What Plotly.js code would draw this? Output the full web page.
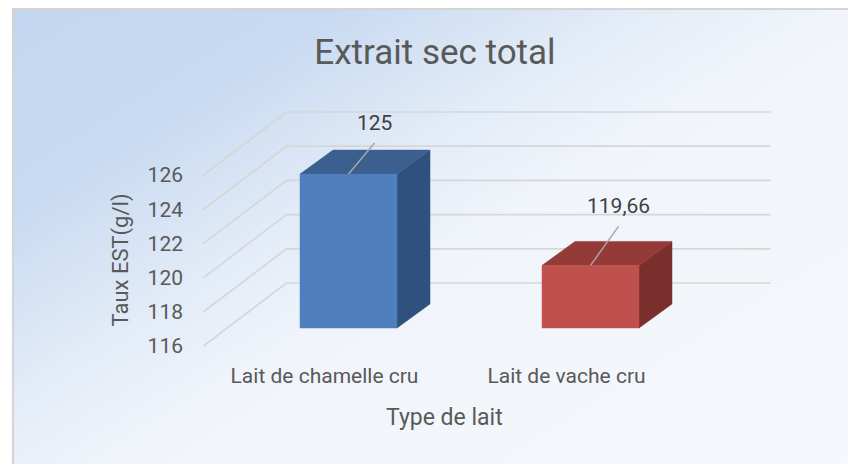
<!DOCTYPE html>
<html>
<head>
<meta charset="utf-8">
<script src="https://cdn.plot.ly/plotly-3.0.1.min.js"></script>
<style>
  body { margin: 0; background: #fff; }
  #frame {
    position: absolute; left: 12px; top: 8px; width: 850px; height: 470px;
    border-left: 2px solid #d4d4d4; border-top: 2px solid #d4d4d4;
    background: linear-gradient(148deg, #c4d7f0 0%, #c8daf1 20%, #e2ebf7 38%, #f1f5fb 52%, #f5f8fc 100%);
  }
  #chart { position: absolute; left: 0; top: 0; width: 848px; height: 464px; }
</style>
</head>
<body>
<div id="frame"></div>
<div id="chart"></div>
<script>
// data
var categories = ['Lait de chamelle cru', 'Lait de vache cru'];
var values = [125, 119.66];
var yTicks = [116, 118, 120, 122, 124, 126];

// colours for each bar : front, top, side
var frontColors = ['#4f7fbd', '#c0504d'];
var topColors = ['#3b5f8f', '#943a37'];
var sideColors = ['#30517e', '#7b2f2d'];

// pixel geometry of the fake 3d box
var L = 186, R = 790, T = 90, B = 350;
var PX_X = 242, PX_Y = 17.1;
var cat0Px = 324.5, basePx = 346;
function dx(px) { return px / PX_X; }
function dy(px) { return px / PX_Y; }

var x0 = -(cat0Px - L) / PX_X;
var xr = [x0, x0 + (R - L) / PX_X];
var y0 = yTicks[0] - (B - basePx) / PX_Y;
var yr = [y0, y0 + (B - T) / PX_Y];

var wallDX = dx(83), wallDY = dy(63);
var frontDX = dx(24), frontDY = dy(18);
var depthDX = dx(33), depthDY = dy(24);
var halfW = dx(48.5);
var leadDX = [26, 28], leadDY = [31, 39];

var traces = [];

// side wall + back wall grid lines
var gx = [], gy = [];
var leftEdge = -0.5, rightEdge = categories.length - 0.5;
yTicks.forEach(function(v) {
  gx.push(leftEdge, leftEdge + wallDX, rightEdge + wallDX, null);
  gy.push(v, v + wallDY, v + wallDY, null);
});
traces.push({x: gx, y: gy, mode: 'lines', line: {color: '#d6d6d6', width: 1.7},
  hoverinfo: 'skip', showlegend: false});

var annotations = [];

values.forEach(function(v, i) {
  var xc = i + frontDX;
  var bot = yTicks[0] + frontDY;
  var top = v + frontDY;
  var xa = xc - halfW, xb = xc + halfW;

  // side face
  traces.push({
    x: [xb, xb + depthDX, xb + depthDX, xb, xb],
    y: [bot, bot + depthDY, top + depthDY, top, bot],
    mode: 'lines', fill: 'toself', fillcolor: sideColors[i],
    line: {color: sideColors[i], width: 0.5}, hoverinfo: 'skip', showlegend: false
  });
  // top face
  traces.push({
    x: [xa, xb, xb + depthDX, xa + depthDX, xa],
    y: [top, top, top + depthDY, top + depthDY, top],
    mode: 'lines', fill: 'toself', fillcolor: topColors[i],
    line: {color: topColors[i], width: 0.5}, hoverinfo: 'skip', showlegend: false
  });
  // front face
  traces.push({
    x: [xa, xb, xb, xa, xa],
    y: [bot, bot, top, top, bot],
    mode: 'lines', fill: 'toself', fillcolor: frontColors[i],
    line: {color: frontColors[i], width: 0.5}, name: categories[i],
    hoverinfo: 'skip', showlegend: false
  });
  // leader line
  var lx = xc + dx(leadDX[i]), ly = top + dy(leadDY[i]);
  traces.push({
    x: [xc, lx], y: [top, ly], mode: 'lines',
    line: {color: '#a6a6a6', width: 1.5}, hoverinfo: 'skip', showlegend: false
  });
  annotations.push({
    x: lx, y: ly, xref: 'x', yref: 'y', text: String(v).replace('.', ','),
    showarrow: false, yanchor: 'bottom', yshift: 6,
    font: {family: 'Roboto', size: 21, color: '#404040'}
  });
});

annotations.push({
  xref: 'paper', yref: 'y', x: (120 - L) / (R - L), y: (yTicks[0] + yTicks[yTicks.length - 1]) / 2,
  text: 'Taux EST(g/l)', textangle: -90, showarrow: false, xanchor: 'center', yanchor: 'middle',
  font: {family: 'Roboto', size: 22, color: '#595959'}
});
annotations.push({
  xref: 'paper', yref: 'paper', x: (444 - L) / (R - L), y: (B - 417) / (B - T),
  text: 'Type de lait', showarrow: false, xanchor: 'center', yanchor: 'middle',
  font: {family: 'Roboto', size: 23, color: '#595959'}
});

var layout = {
  width: 848, height: 464,
  margin: {l: L, r: 848 - R, t: T, b: 464 - B},
  paper_bgcolor: 'rgba(0,0,0,0)',
  plot_bgcolor: 'rgba(0,0,0,0)',
  title: {
    text: 'Extrait sec total', x: 435 / 848, xanchor: 'center', xref: 'container',
    y: 1 - 52 / 464, yanchor: 'middle', yref: 'container',
    font: {family: 'Roboto', size: 35, color: '#595959'}
  },
  xaxis: {
    range: xr, tickvals: categories.map(function(c, i) { return i; }), ticktext: categories,
    showgrid: false, zeroline: false, showline: false, ticks: '',
    tickfont: {family: 'Roboto', size: 21, color: '#595959'}, ticklabelstandoff: 11
  },
  yaxis: {
    range: yr, tickvals: yTicks, ticktext: yTicks.map(String),
    showgrid: false, zeroline: false, showline: false, ticks: '',
    tickfont: {family: 'Roboto', size: 21, color: '#595959'}, ticklabelstandoff: 2
  },
  annotations: annotations,
  showlegend: false
};

Plotly.newPlot('chart', traces, layout, {displayModeBar: false, staticPlot: true});
</script>
</body>
</html>
